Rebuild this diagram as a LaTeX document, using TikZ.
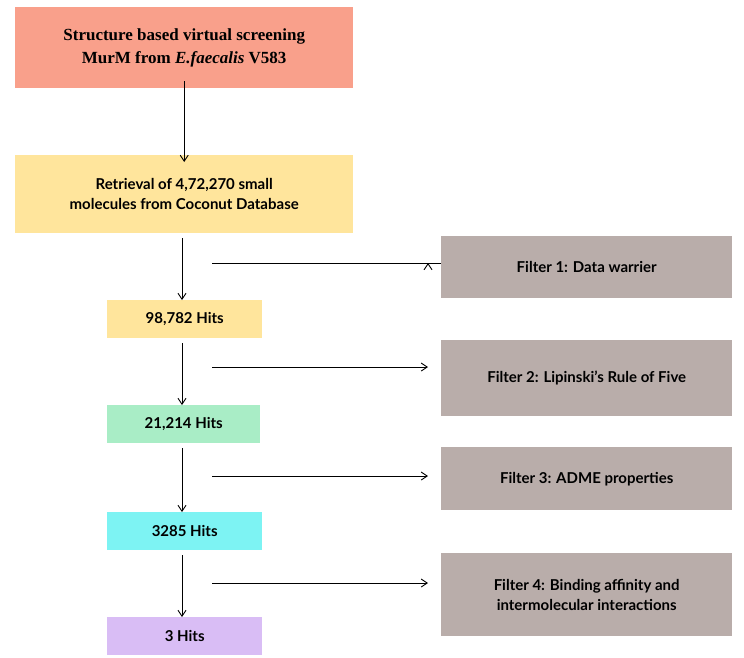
\documentclass[tikz,border=0pt]{standalone}
\usepackage{fontspec}
\setmainfont{Liberation Serif}
\setsansfont{Lato}
\usetikzlibrary{arrows.meta}
\definecolor{salmon}{HTML}{F9A08B}
\definecolor{lyellow}{HTML}{FFE59C}
\definecolor{lgreen}{HTML}{A9EDC6}
\definecolor{lcyan}{HTML}{7DF3F3}
\definecolor{lpurple}{HTML}{D9BDF5}
\definecolor{fgray}{HTML}{B9ADAA}
\begin{document}
\begin{tikzpicture}[x=1pt,y=-1pt,
  box/.style={draw=none,anchor=north west,align=center,font=\sffamily\bfseries\fontsize{15}{20}\selectfont,inner sep=0pt},
  arr/.style={-{Straight Barb[length=6pt,width=8pt]},line width=0.9pt}]
\useasboundingbox (0,0) rectangle (744,657);
\fill[white] (0,0) rectangle (744,657);
\node[box,fill=salmon,minimum width=338,minimum height=81,font=\rmfamily\bfseries\fontsize{17}{23}\selectfont] (b1) at (15,7) {Structure based virtual screening\\MurM from \textit{E.faecalis} V583};
\node[box,fill=lyellow,minimum width=338,minimum height=78] (b2) at (15,155) {Retrieval of 4,72,270 small\\molecules from Coconut Database};
\node[box,fill=lyellow,minimum width=155,minimum height=38] (h1) at (107,300) {98,782 Hits};
\node[box,fill=lgreen,minimum width=153,minimum height=38] (h2) at (107,405) {21,214 Hits};
\node[box,fill=lcyan,minimum width=155,minimum height=38] (h3) at (107,512) {3285 Hits};
\node[box,fill=lpurple,minimum width=155,minimum height=38] (h4) at (107,617) {3 Hits};
\node[box,fill=fgray,minimum width=291,minimum height=62] (f1) at (441,236) {Filter 1: Data warrier};
\node[box,fill=fgray,minimum width=291,minimum height=76] (f2) at (441,340) {Filter 2: Lipinski's Rule of Five};
\node[box,fill=fgray,minimum width=291,minimum height=63] (f3) at (441,447) {Filter 3: ADME properties};
\node[box,fill=fgray,minimum width=291,minimum height=83] (f4) at (441,553) {Filter 4: Binding affinity and\\intermolecular interactions};
\draw[arr] ([yshift=7]b1.south) -- ([yshift=-7]b2.north);
\draw[arr] (182,238) -- (182,238 |- h1.north);
\draw[arr] (182,343) -- (182,343 |- h2.north);
\draw[arr] (182,448) -- (182,448 |- h3.north);
\draw[arr] (182,555) -- (182,555 |- h4.north);
\draw[arr] (212,263) -- (212,263 -| f1.west) ++(-13,0);
\draw[arr] (212,367) -- (428,367);
\draw[arr] (212,476) -- (428,476);
\draw[arr] (212,583) -- (428,583);
\end{tikzpicture}
\end{document}
